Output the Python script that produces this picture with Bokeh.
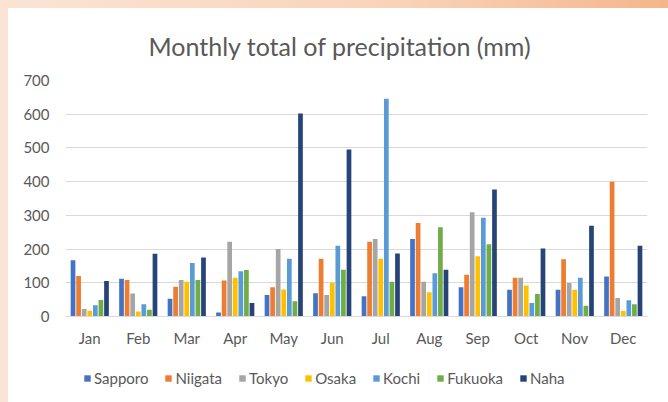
from bokeh.plotting import figure
from bokeh.layouts import column
from bokeh.models import (FactorRange, ColumnDataSource, Legend, LegendItem,
                          FixedTicker, GlobalInlineStyleSheet)
from bokeh.transform import dodge
from bokeh.embed import file_html
from bokeh.resources import INLINE

months = ["Jan", "Feb", "Mar", "Apr", "May", "Jun",
          "Jul", "Aug", "Sep", "Oct", "Nov", "Dec"]
cities = ["Sapporo", "Niigata", "Tokyo", "Osaka", "Kochi", "Fukuoka", "Naha"]

sapporo = [167, 112, 53, 12, 64, 69, 60, 230, 87, 79, 79, 119]
niigata = [120, 108, 88, 107, 87, 171, 222, 277, 124, 115, 170, 400]
tokyo = [22, 68, 108, 222, 200, 64, 230, 103, 309, 115, 99, 55]
osaka = [17, 15, 103, 115, 80, 100, 171, 72, 179, 92, 79, 16]
kochi = [33, 36, 159, 134, 171, 210, 646, 128, 293, 40, 115, 48]
fukuoka = [49, 20, 108, 138, 45, 139, 103, 265, 214, 67, 32, 36]
naha = [105, 186, 175, 40, 602, 495, 187, 139, 377, 202, 269, 210]

y_ticks = [0, 100, 200, 300, 400, 500, 600, 700]

colors = ["#4472C4", "#ED7D31", "#A5A5A5", "#FFC000", "#5B9BD5", "#70AD47", "#264478"]
series = [sapporo, niigata, tokyo, osaka, kochi, fukuoka, naha]

data = {"month": months}
for c, s in zip(cities, series):
    data[c] = s
source = ColumnDataSource(data)

css = GlobalInlineStyleSheet(css="body{background:linear-gradient(to right,#fbe4d5 0%,#f9d3b8 60%,#f4b68c 100%);}")

p = figure(x_range=FactorRange(*months), y_range=(0, 700),
           width=660, height=346, output_backend="svg", toolbar_location=None,
           min_border_left=57, min_border_right=21, min_border_top=70, min_border_bottom=38,
           background_fill_color="white", border_fill_color="white",
           outline_line_color=None, stylesheets=[css])

p.title.text = "Monthly total of precipitation (mm)"
p.title.align = "left"
p.title.offset = 83
p.title.text_font = "Lato"
p.title.text_font_size = "25px"
p.title.text_font_style = "normal"
p.title.text_color = "#595959"
p.title.standoff = 40

pitch = 0.115
for i, (c, col) in enumerate(zip(cities, colors)):
    p.vbar(x=dodge("month", (i - 3) * pitch, range=p.x_range), top=c, width=0.097,
           source=source, fill_color=col, line_color=None)

p.yaxis.ticker = FixedTicker(ticks=y_ticks)
p.yaxis.axis_line_color = None
p.yaxis.major_tick_line_color = None
p.yaxis.minor_tick_line_color = None
p.yaxis.major_label_standoff = 10
p.yaxis.major_label_text_font = "Lato"
p.yaxis.major_label_text_font_size = "15px"
p.yaxis.major_label_text_color = "#595959"

p.xaxis.axis_line_color = "#d9d9d9"
p.xaxis.major_tick_line_color = None
p.xaxis.minor_tick_line_color = None
p.xaxis.major_label_standoff = 6
p.xaxis.major_label_text_font = "Lato"
p.xaxis.major_label_text_font_size = "15px"
p.xaxis.major_label_text_color = "#595959"

p.xgrid.grid_line_color = None
p.ygrid.grid_line_color = "#d9d9d9"
p.ygrid.grid_line_width = 1

# legend strip (proxy glyphs lie outside the visible range)
lf = figure(width=660, height=48, output_backend="svg", toolbar_location=None,
            x_axis_type=None, y_axis_type=None, x_range=(0, 1), y_range=(0, 1),
            min_border_left=57, min_border_right=21, min_border_top=0, min_border_bottom=0,
            outline_line_color=None,
            background_fill_color="white", border_fill_color="white")
lf.grid.visible = False
proxy = ColumnDataSource(dict(x=[-10], top=[-10]))
items = []
for c, col in zip(cities, colors):
    r = lf.vbar(x="x", top="top", width=0.1, source=proxy, fill_color=col, line_color=None)
    items.append(LegendItem(label=c, renderers=[r]))

legend = Legend(items=items, orientation="horizontal", location=(18, 15),
                padding=0, margin=0, spacing=16, label_standoff=3,
                glyph_width=8, glyph_height=8, border_line_color=None,
                background_fill_alpha=0,
                label_text_font="Lato", label_text_font_size="15px",
                label_text_color="#595959")
lf.add_layout(legend, "center")

layout = column(p, lf, spacing=0)
layout.margin = (8, 0, 0, 8)
layout.styles = {"background-color": "white"}

open("out.html", "w").write(file_html(layout, INLINE))
